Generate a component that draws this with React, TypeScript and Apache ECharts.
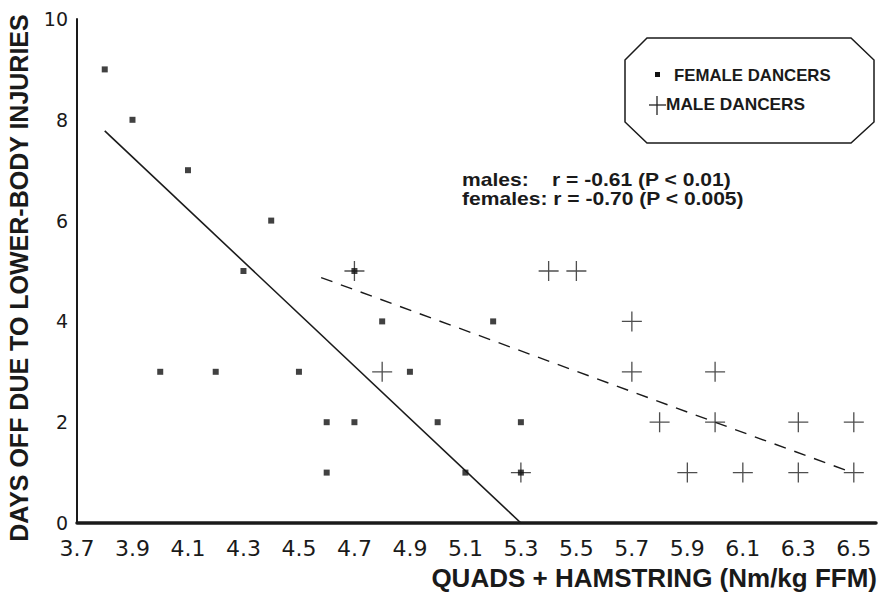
import React, { useEffect, useRef } from "react";
import * as echarts from "echarts";

// Female dancers (squares)
const femaleX = [3.8, 3.9, 4.1, 4.4, 4.3, 4.7, 4.0, 4.2, 4.5, 4.8, 4.9, 5.2, 4.6, 4.7, 5.0, 5.3, 4.6, 5.1, 5.3];
const femaleY = [9, 8, 7, 6, 5, 5, 3, 3, 3, 4, 3, 4, 2, 2, 2, 2, 1, 1, 1];
// Male dancers (plus)
const maleX = [4.7, 4.8, 5.3, 5.4, 5.5, 5.7, 5.7, 6.0, 5.8, 6.0, 6.3, 6.5, 5.9, 6.1, 6.3, 6.5];
const maleY = [5, 3, 1, 5, 5, 4, 3, 3, 2, 2, 2, 2, 1, 1, 1, 1];
// Regression lines (end points)
const femaleFitX = [3.8, 5.3];
const femaleFitY = [7.78, 0];
const maleFitX = [4.58, 6.48];
const maleFitY = [4.87, 1.03];
// Tick labels
const xTickLabels = ["3.7", "3.9", "4.1", "4.3", "4.5", "4.7", "4.9", "5.1", "5.3", "5.5", "5.7", "5.9", "6.1", "6.3", "6.5"];
const yTickLabels = ["0", "2", "4", "6", "8", "10"];

const xTitle = "QUADS + HAMSTRING (Nm/kg FFM)";
const yTitle = "DAYS OFF DUE TO LOWER-BODY INJURIES";
const legendFemale = "FEMALE DANCERS";
const legendMale = "MALE DANCERS";
const noteMales = "males:    r = -0.61 (P < 0.01)";
const noteFemales = "females: r = -0.70 (P < 0.005)";

const INK = "#1a1a1a";
const FONT = "'Liberation Sans', Arial, Helvetica, sans-serif";
const TICKFONT = "'DejaVu Sans', 'Liberation Sans', sans-serif";
const PLUS = "path://M0,10L20,10M10,0L10,20";

const zip = (xs: number[], ys: number[]) => xs.map((x, i) => [x, ys[i]]);

export default function App() {
  const ref = useRef<HTMLDivElement>(null);
  useEffect(() => {
    if (!ref.current) return;
    const chart = echarts.init(ref.current, null, { renderer: "svg" });
    const option: any = {
      animation: false,
      backgroundColor: "#ffffff",
      grid: { left: 77, top: 19, right: 0, bottom: 69, containLabel: false },
      xAxis: {
        type: "value",
        min: 3.7,
        max: 6.58,
        interval: 0.1,
        axisLine: { show: true, lineStyle: { color: INK, width: 3.5 } },
        axisTick: { show: false },
        splitLine: { show: false },
        axisLabel: {
          color: INK,
          fontFamily: TICKFONT,
          fontSize: 22,
          margin: 14,
          showMinLabel: true,
          showMaxLabel: true,
          formatter: (v: number) => {
            const s = v.toFixed(1);
            return Math.abs(v * 10 - Math.round(v * 10)) < 1e-6 && xTickLabels.includes(s) ? s : "";
          },
        },
      },
      yAxis: {
        type: "value",
        min: 0,
        max: 10,
        interval: 2,
        axisLine: { show: true, lineStyle: { color: INK, width: 2 } },
        axisTick: { show: false },
        splitLine: { show: false },
        axisLabel: {
          color: INK,
          fontFamily: TICKFONT,
          fontSize: 19,
          margin: 9,
          formatter: (v: number) => (yTickLabels.includes(String(v)) ? String(v) : ""),
        },
      },
      series: [
        {
          type: "line",
          data: zip(femaleFitX, femaleFitY),
          symbol: "none",
          lineStyle: { color: INK, width: 1.6 },
          z: 2,
        },
        {
          type: "line",
          data: zip(maleFitX, maleFitY),
          symbol: "none",
          lineStyle: { color: INK, width: 1.4, type: [12, 9] },
          z: 2,
        },
        {
          type: "scatter",
          data: zip(maleX, maleY),
          symbol: PLUS,
          symbolSize: 20,
          itemStyle: { color: "none", borderColor: "#222", borderWidth: 1.3 },
          z: 3,
        },
        {
          type: "scatter",
          data: zip(femaleX, femaleY),
          symbol: "rect",
          symbolSize: 6,
          itemStyle: { color: "#111" },
          z: 4,
        },
      ],
      graphic: [
        {
          type: "text",
          x: 19,
          y: 278,
          rotation: Math.PI / 2,
          style: {
            text: yTitle,
            fill: INK,
            font: `bold 25px ${FONT}`,
            align: "center",
            verticalAlign: "middle",
          },
        },
        {
          type: "text",
          x: 877,
          y: 578,
          style: {
            text: xTitle,
            fill: INK,
            font: `bold 26px ${FONT}`,
            align: "right",
            verticalAlign: "middle",
          },
        },
        {
          type: "text",
          x: 462,
          y: 180,
          scaleX: 1.17,
          style: { text: noteMales, fill: INK, font: `bold 18px ${FONT}`, align: "left", verticalAlign: "middle" },
        },
        {
          type: "text",
          x: 462,
          y: 199,
          scaleX: 1.17,
          style: { text: noteFemales, fill: INK, font: `bold 18px ${FONT}`, align: "left", verticalAlign: "middle" },
        },
        {
          type: "polygon",
          shape: {
            points: [
              [625, 60], [647, 38], [851, 38], [874, 60],
              [874, 122], [851, 143], [647, 143], [625, 122],
            ],
          },
          style: { fill: "#fff", stroke: INK, lineWidth: 1.5 },
        },
        { type: "rect", shape: { x: 655, y: 72, width: 5, height: 5 }, style: { fill: "#111" } },
        {
          type: "text",
          x: 674,
          y: 75,
          scaleX: 1.05,
          style: { text: legendFemale, fill: INK, font: `bold 16px ${FONT}`, align: "left", verticalAlign: "middle" },
        },
        { type: "line", shape: { x1: 649, y1: 105, x2: 666, y2: 105 }, style: { stroke: "#222", lineWidth: 1.3 } },
        { type: "line", shape: { x1: 657, y1: 96, x2: 657, y2: 115 }, style: { stroke: "#222", lineWidth: 1.3 } },
        {
          type: "text",
          x: 666,
          y: 105,
          scaleX: 1.08,
          style: { text: legendMale, fill: INK, font: `bold 16px ${FONT}`, align: "left", verticalAlign: "middle" },
        },
      ],
    };
    chart.setOption(option);
    return () => chart.dispose();
  }, []);
  return (
    <div
      ref={ref}
      style={{ position: "fixed", left: 0, top: 0, width: 879, height: 592, background: "#fff" }}
    />
  );
}
